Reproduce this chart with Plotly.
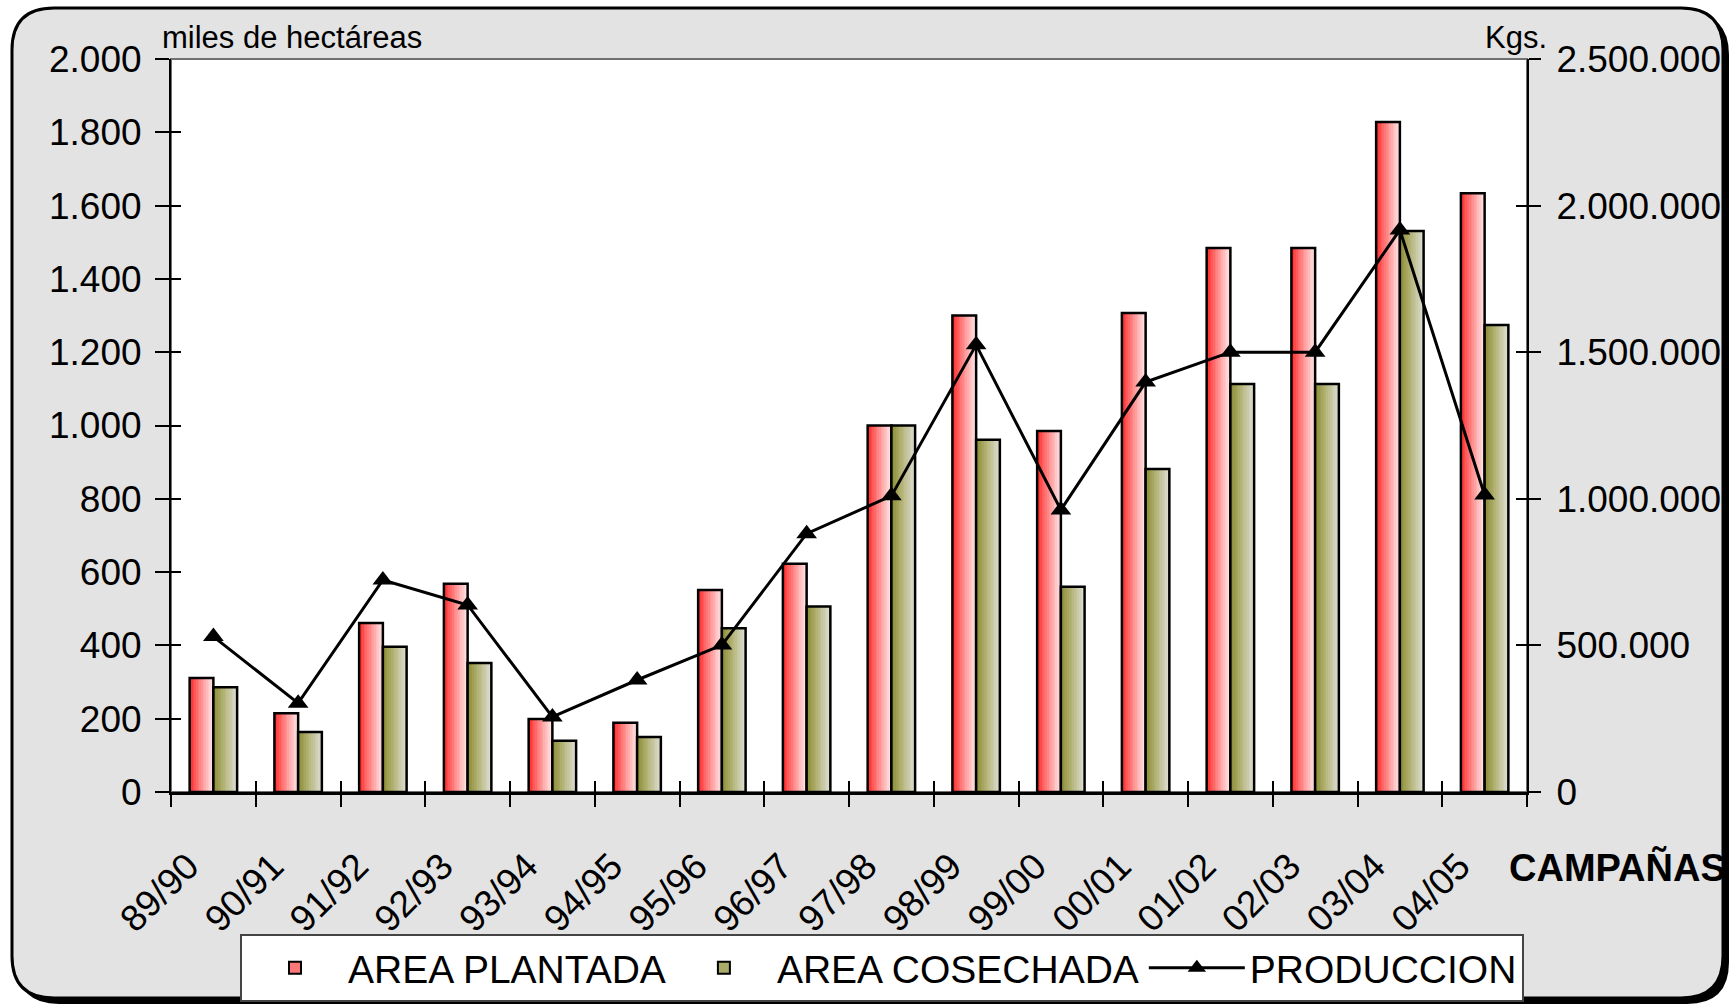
import plotly.graph_objects as go

# ---------------- data ----------------
campanas = ["89/90", "90/91", "91/92", "92/93", "93/94", "94/95", "95/96", "96/97",
            "97/98", "98/99", "99/00", "00/01", "01/02", "02/03", "03/04", "04/05"]
area_plantada = [311, 215, 461, 568, 199, 189, 551, 623, 1000, 1300, 985, 1307, 1484, 1484, 1828, 1634]
area_cosechada = [286, 164, 396, 352, 140, 150, 447, 506, 1000, 961, 560, 881, 1113, 1113, 1531, 1274]
produccion = [530000, 303000, 723000, 638000, 256000, 382000, 501000, 881000,
              1010000, 1525000, 962000, 1398000, 1500000, 1500000, 1917000, 1013000]

# ---------------- geometry (pixels) ----------------
W, H = 1733, 1007
L, R, T, B = 171, 1527, 59, 792
PW, PH = R - L, B - T

def px(x):
    return (x - L) / PW

def py(y):
    return (B - y) / PH

FONT = "Liberation Sans, Arial, sans-serif"
BW = 0.28          # bar width in category units
NS = 14            # gradient slices per bar
LABEL_SHIFT = 0.3  # x tick labels sit left of the category centre

def lerp(c1, c2, t):
    return "rgb(%d,%d,%d)" % tuple(round(a + (b - a) * t) for a, b in zip(c1, c2))

red_stops = [(255, 30, 30), (255, 90, 90), (255, 140, 140), (255, 188, 188), (255, 228, 228)]
olive_stops = [(135, 135, 50), (160, 160, 85), (182, 182, 125), (202, 202, 170), (222, 222, 210)]

def grad(stops, t):
    n = len(stops) - 1
    k = min(int(t * n), n - 1)
    return lerp(stops[k], stops[k + 1], t * n - k)

fig = go.Figure()

def add_series(values, stops, base_offset, name, legend_color):
    for i in range(NS):
        fig.add_trace(go.Bar(
            x=campanas, y=values, width=BW / NS, offset=base_offset + i * BW / NS,
            marker=dict(color=grad(stops, (i + 0.5) / NS), line=dict(width=0)),
            showlegend=False, hoverinfo="skip"))
    fig.add_trace(go.Bar(
        x=campanas, y=values, width=BW, offset=base_offset,
        marker=dict(color="rgba(0,0,0,0)", line=dict(color="black", width=2.5)),
        showlegend=False, name=name))
    fig.add_trace(go.Bar(
        x=campanas, y=[None] * len(campanas), name=name,
        marker=dict(color=legend_color, line=dict(color="black", width=2))))

add_series(area_plantada, red_stops, -BW, "AREA PLANTADA", "rgb(255,120,120)")
add_series(area_cosechada, olive_stops, 0.0, "AREA COSECHADA", "rgb(170,170,105)")

fig.add_trace(go.Scatter(
    x=campanas, y=produccion, yaxis="y2", name="PRODUCCION", mode="lines+markers",
    line=dict(color="black", width=3),
    marker=dict(symbol="triangle-up", size=18, color="black")))

# empty helper traces so that the auxiliary axes (crossing ticks, shifted labels) get drawn
for xa, ya in [("x2", "y"), ("x3", "y"), ("x", "y3"), ("x", "y4")]:
    fig.add_trace(go.Scatter(x=[None], y=[None], xaxis=xa, yaxis=ya, mode="markers",
                             showlegend=False, hoverinfo="skip"))

# ---------------- decorations ----------------
def rounded(x0, y0, x1, y1, r):
    pts = [
        ("M", [(x0 + r, y0)]), ("L", [(x1 - r, y0)]), ("Q", [(x1, y0), (x1, y0 + r)]),
        ("L", [(x1, y1 - r)]), ("Q", [(x1, y1), (x1 - r, y1)]),
        ("L", [(x0 + r, y1)]), ("Q", [(x0, y1), (x0, y1 - r)]),
        ("L", [(x0, y0 + r)]), ("Q", [(x0, y0), (x0 + r, y0)]),
    ]
    s = ""
    for cmd, ps in pts:
        s += cmd + " ".join("%.5f,%.5f" % (px(a), py(b)) for a, b in ps) + " "
    return s + "Z"

shapes = [
    dict(type="path", xref="paper", yref="paper", layer="below",
         path=rounded(17, 13, 1729, 1004, 42), fillcolor="black", line=dict(width=0)),
    dict(type="path", xref="paper", yref="paper", layer="below",
         path=rounded(12, 8, 1723, 998, 42), fillcolor="#e3e3e3",
         line=dict(color="black", width=3)),
    dict(type="rect", xref="paper", yref="paper", layer="below",
         x0=0, x1=1, y0=0, y1=1, fillcolor="white", line=dict(color="#707070", width=2)),
]

annotations = [
    dict(text="miles de hectáreas", xref="paper", yref="paper", x=px(160), y=py(37),
         xanchor="left", yanchor="middle", showarrow=False, font=dict(family=FONT, size=31, color="black")),
    dict(text="Kgs.", xref="paper", yref="paper", x=px(1549), y=py(37),
         xanchor="right", yanchor="middle", showarrow=False, font=dict(family=FONT, size=31, color="black")),
    dict(text="CAMPAÑAS", xref="paper", yref="paper", x=px(1507), y=py(868),
         xanchor="left", yanchor="middle", showarrow=False,
         font=dict(family=FONT, size=38, color="black", weight="bold")),
]

tickfont = dict(family=FONT, size=37, color="black")

fig.update_layout(
    width=W, height=H,
    margin=dict(l=L, r=W - R, t=T, b=H - B, pad=0, autoexpand=False),
    paper_bgcolor="white", plot_bgcolor="rgba(0,0,0,0)",
    barmode="overlay",
    separators=",.",
    shapes=shapes, annotations=annotations,
    xaxis=dict(type="category", range=[-0.5, 15.5], tickson="boundaries", automargin=False,
               ticks="outside", ticklen=12, tickwidth=1.5, tickcolor="black",
               showline=True, linecolor="black", linewidth=2.5, showgrid=False,
               showticklabels=False),
    xaxis2=dict(type="linear", overlaying="x", anchor="y", range=[-0.5, 15.5], automargin=False,
                tick0=-0.5, dtick=1, ticks="inside", ticklen=11, tickwidth=1.5,
                tickcolor="black", showticklabels=False, showgrid=False,
                showline=False, zeroline=False),
    xaxis3=dict(type="linear", overlaying="x", anchor="y", range=[-0.5, 15.5], automargin=False,
                tickmode="array", tickvals=[i - LABEL_SHIFT for i in range(len(campanas))],
                ticktext=campanas, ticks="", tickangle=-45,
                tickfont=dict(family=FONT, size=37, color="black"), ticklabelstandoff=44,
                showgrid=False, showline=False, zeroline=False),
    yaxis=dict(range=[0, 2000], dtick=200, tickformat=",d", separatethousands=True,
               automargin=False,
               ticks="outside", ticklen=14, tickwidth=1.5, tickcolor="black",
               showline=True, linecolor="black", linewidth=2, showgrid=False,
               zeroline=False, tickfont=tickfont, ticklabelstandoff=6),
    yaxis2=dict(range=[0, 2500000], dtick=500000, tickformat=",d", overlaying="y",
                automargin=False,
                side="right", ticks="outside", ticklen=12, tickwidth=1.5, tickcolor="black",
                showline=True, linecolor="black", linewidth=2, showgrid=False,
                zeroline=False, tickfont=tickfont, ticklabelstandoff=8),
    yaxis3=dict(range=[0, 2000], dtick=200, overlaying="y", side="left", ticks="inside",
                automargin=False,
                ticklen=10, tickwidth=1.5, tickcolor="black", showticklabels=False,
                showline=False, showgrid=False, zeroline=False),
    yaxis4=dict(range=[0, 2500000], dtick=500000, overlaying="y", side="right", ticks="inside",
                automargin=False,
                ticklen=11, tickwidth=1.5, tickcolor="black", showticklabels=False,
                showline=False, showgrid=False, zeroline=False),
    legend=dict(orientation="h", x=px(240), y=py(934), xanchor="left", yanchor="top",
                bgcolor="white", bordercolor="#444", borderwidth=2, itemwidth=96,
                font=dict(family=FONT, size=39, color="black"), traceorder="normal"),
    showlegend=True,
)

fig.write_html("out.html", config={"displayModeBar": False},
               post_script="document.body.style.margin='0px';")
